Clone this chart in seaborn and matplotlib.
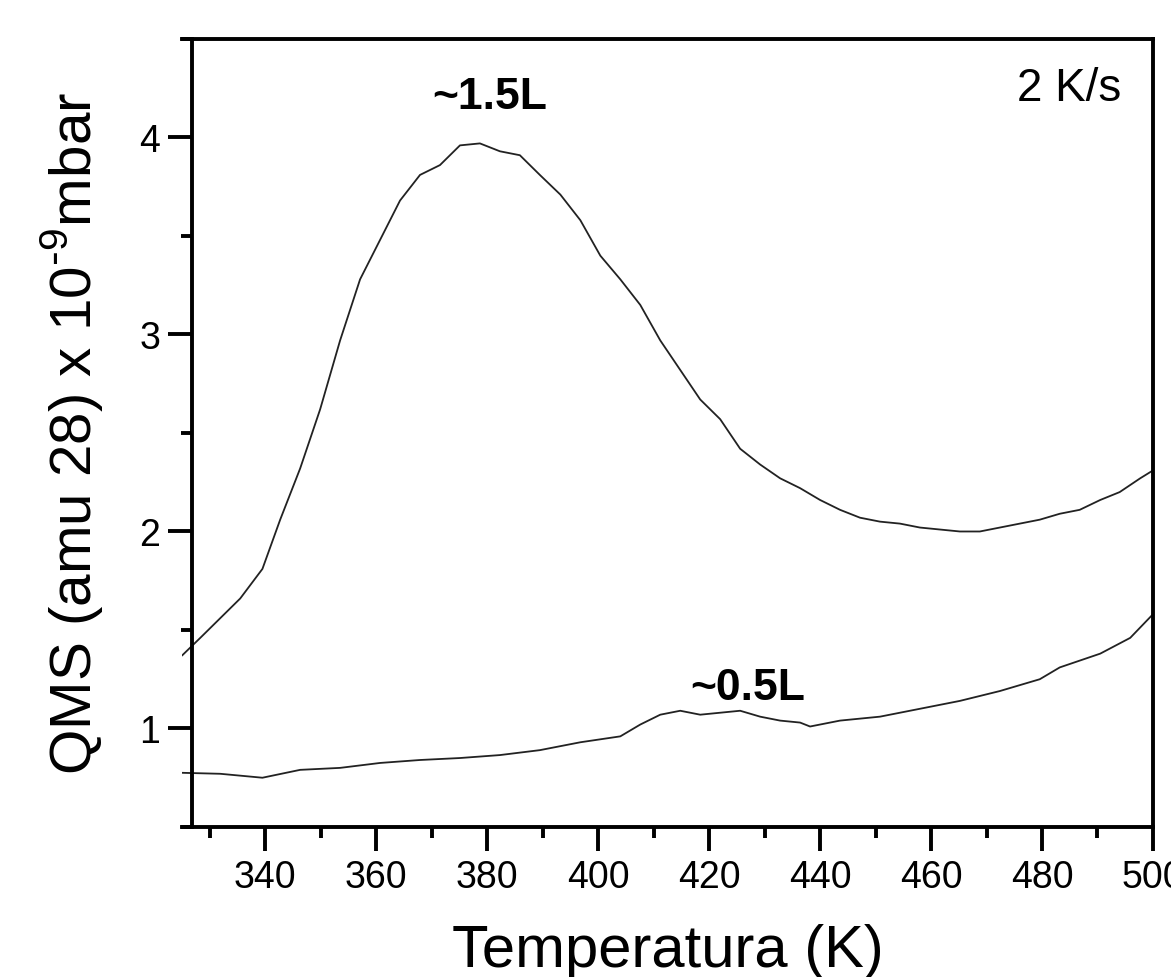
import numpy as np
import pandas as pd
import matplotlib
matplotlib.use("Agg")
import matplotlib.pyplot as plt
import seaborn as sns
from matplotlib.ticker import MultipleLocator

# ~1.5L desorption trace
temp_hi = [325, 328.3, 331.9, 335.5, 339.5, 342.7, 346.3, 349.9, 353.5, 357.1,
           360.7, 364.3, 367.9, 371.5, 375.1, 378.7, 382.3, 385.9, 389.5, 393.2,
           396.8, 400.4, 404, 407.6, 411.2, 414.8, 418.4, 422, 425.6, 429.2,
           432.8, 436.4, 440, 443.6, 447.2, 450.8, 454.4, 458, 461.6, 465.2,
           468.8, 472.4, 476, 479.6, 483.2, 486.8, 490.5, 494, 497.7, 500]
qms_hi = [1.37, 1.46, 1.56, 1.66, 1.81, 2.06, 2.32, 2.62, 2.97, 3.28,
          3.48, 3.68, 3.81, 3.86, 3.96, 3.97, 3.93, 3.91, 3.81, 3.71,
          3.58, 3.40, 3.28, 3.15, 2.97, 2.82, 2.67, 2.57, 2.42, 2.34,
          2.27, 2.22, 2.16, 2.11, 2.07, 2.05, 2.04, 2.02, 2.01, 2.00,
          2.00, 2.02, 2.04, 2.06, 2.09, 2.11, 2.16, 2.20, 2.27, 2.31]

# ~0.5L desorption trace
temp_lo = [325, 331.9, 339.5, 346.3, 353.5, 360.7, 367.9, 375.1, 382.3, 389.5,
           396.8, 404, 407.6, 411.2, 414.8, 418.4, 422, 425.6, 429.2, 432.8,
           436.4, 438.2, 443.6, 450.8, 458, 465.2, 472.4, 479.6, 483.2, 490.5,
           495.9, 500]
qms_lo = [0.775, 0.77, 0.75, 0.79, 0.80, 0.825, 0.84, 0.85, 0.865, 0.89,
          0.93, 0.96, 1.02, 1.07, 1.09, 1.07, 1.08, 1.09, 1.06, 1.04,
          1.03, 1.01, 1.04, 1.06, 1.10, 1.14, 1.19, 1.25, 1.31, 1.38,
          1.46, 1.58]

labels = ["~1.5L", "~0.5L"]

df = pd.concat([
    pd.DataFrame({"T": temp_hi, "QMS": qms_hi, "dose": labels[0]}),
    pd.DataFrame({"T": temp_lo, "QMS": qms_lo, "dose": labels[1]}),
])

sns.set_style("ticks")
plt.rcParams['font.family'] = ['Liberation Sans', 'DejaVu Sans']
plt.rcParams['text.color'] = 'black'
plt.rcParams['axes.labelcolor'] = 'black'
plt.rcParams['xtick.color'] = 'black'
plt.rcParams['ytick.color'] = 'black'
plt.rcParams['axes.unicode_minus'] = False

fig = plt.figure(figsize=(11.71, 9.78), dpi=100)
ax = fig.add_axes([0.1554, 0.1534, 0.8292, 0.8057])

sns.lineplot(data=df, x="T", y="QMS", units="dose", estimator=None,
             color="#222222", linewidth=1.3, ax=ax, sort=False)

ax.set_xlim(325, 500)
ax.set_ylim(0.5, 4.5)
ax.xaxis.set_minor_locator(MultipleLocator(10))
ax.yaxis.set_minor_locator(MultipleLocator(0.5))
ax.set_xticks(np.arange(340, 501, 20))
ax.set_yticks([1, 2, 3, 4])

for s in ax.spines.values():
    s.set_visible(True)
    s.set_linewidth(2.8)
    s.set_color("black")
ax.spines['left'].set_position(('data', 326.8))

ax.tick_params(which="major", direction="out", length=17, width=2.8,
               labelsize=27, pad=6)
ax.tick_params(which="minor", direction="out", length=8, width=2.8)
ax.tick_params(top=False, right=False, which="both")

ax.set_xlabel("Temperatura (K)", fontsize=43, labelpad=20)
ax.set_ylabel("QMS (amu 28) x 10$^{\\mathregular{\\text{-}9}}$mbar", fontsize=42, labelpad=24)

ax.text(380.5, 4.21, labels[0], fontsize=32, fontweight="bold",
        ha="center", va="center")
ax.text(427, 1.21, labels[1], fontsize=32, fontweight="bold",
        ha="center", va="center")
ax.text(494.2, 4.25, "2 K/s", fontsize=33, ha="right", va="center")

fig.savefig("out.png", dpi=100)
